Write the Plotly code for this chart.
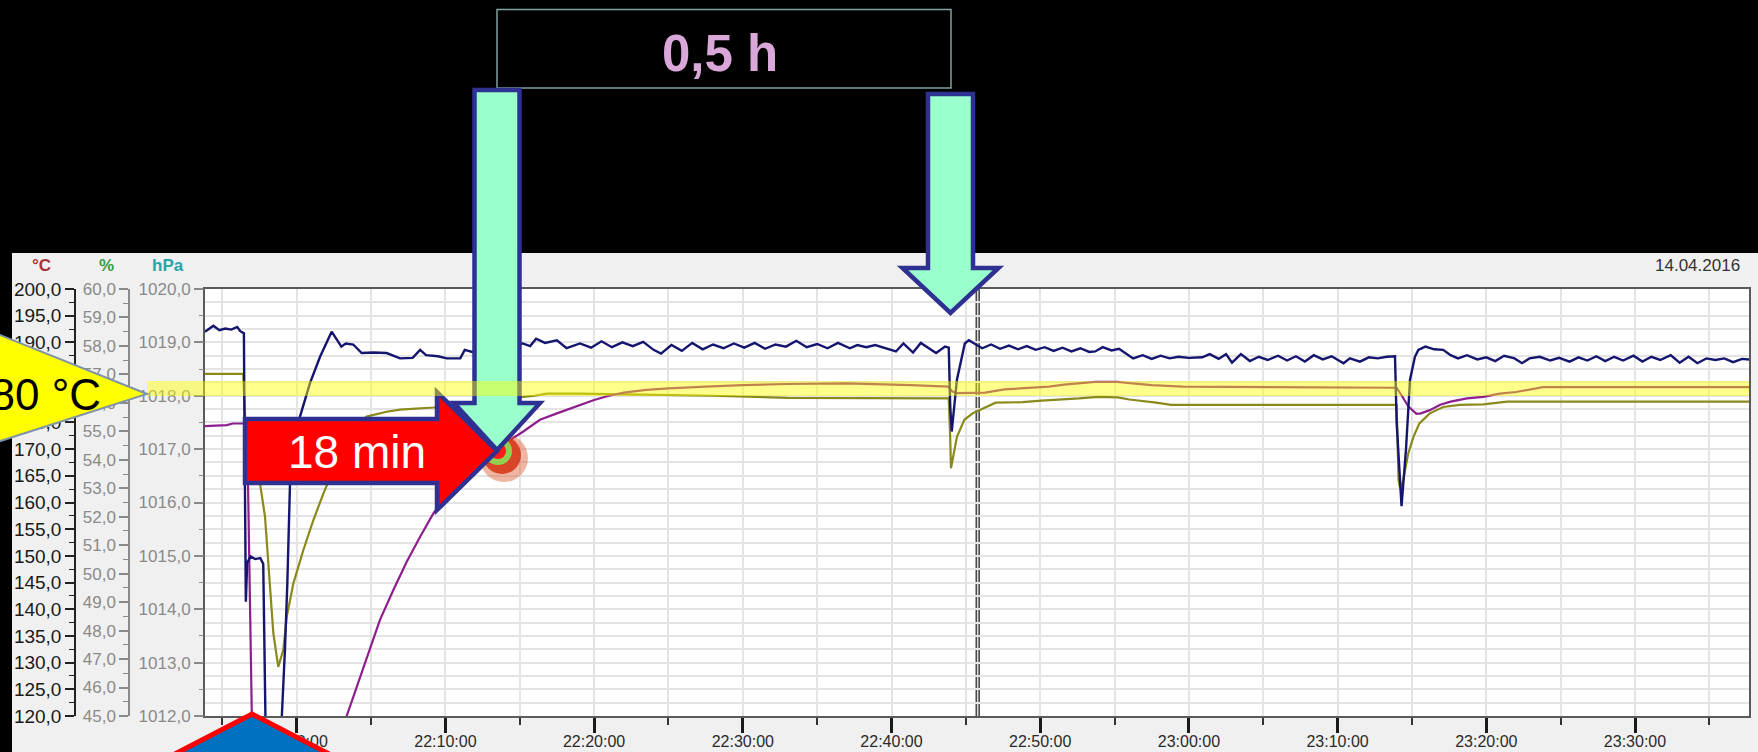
import pandas as pd
import plotly.graph_objects as go

W, H = 1758, 752

# ---------------- data (minutes after 22:00:00, 14.04.2016) ----------------
navy_min = [-6.17, -5.6, -5.2, -4.8, -4.4, -4.0, -3.8, -3.55, -3.5, -3.42,
            -3.33, -3.1, -2.8, -2.45, -2.25, -2.1, -2.0, -1.1, -1.0, -0.79,
            -0.63, -0.45, -0.11, 0.22, 0.9, 1.57, 2.35, 2.7, 3.0, 3.3,
            3.8, 4.37, 5.15, 6.05, 6.95, 7.8, 8.3, 8.7, 9.5, 10.1,
            11.0, 11.3, 11.8, 12.5, 13.5, 14.5, 15.2, 15.7, 16.1, 16.7,
            17.5, 18.15, 19.05, 19.8, 20.5, 21.2, 21.9, 22.6, 23.3, 24.0,
            24.5, 25.2, 25.9, 26.6, 27.3, 28.0, 28.7, 29.4, 30.1, 30.8,
            31.5, 32.2, 32.9, 33.6, 34.3, 35.0, 35.7, 36.4, 37.2, 37.7,
            38.3, 38.9, 39.5, 40.3, 40.8, 41.45, 41.97, 42.5, 43.0, 43.6,
            43.85, 43.95, 44.05, 44.4, 44.93, 45.2, 45.7, 46.1, 46.7, 47.3,
            47.9, 48.5, 49.1, 49.7, 50.3, 50.9, 51.5, 52.1, 52.7, 53.3,
            53.7, 54.2, 54.8, 55.3, 56.25, 56.9, 57.5, 58.1, 58.7, 59.3,
            60.0, 60.9, 61.4, 62.0, 62.5, 62.9, 63.5, 64.1, 64.7, 65.3,
            66.0, 66.6, 67.2, 67.8, 68.4, 69.0, 69.6, 70.4, 70.83, 71.5,
            72.1, 72.7, 73.3, 73.86, 73.97, 74.3, 74.6, 74.87, 75.2, 75.43,
            75.9, 76.5, 77.1, 77.6, 78.1, 78.7, 79.4, 80.0, 80.6, 81.2,
            81.9, 82.4, 82.9, 83.6, 84.3, 84.9, 85.6, 86.2, 86.8, 87.4,
            88.0, 88.6, 89.2, 89.9, 90.5, 91.1, 91.7, 92.4, 93.0, 93.6,
            94.2, 94.8, 95.4, 96.0, 96.6, 97.2, 97.67]
navy_degC = [192.0, 193.1, 192.3, 192.6, 192.4, 192.9, 192.1, 191.7, 170.0, 141.4,
             148.7, 149.9, 149.4, 149.6, 148.5, 120.0, 100.0, 100.0, 120.0, 132.4,
             144.9, 163.6, 172.3, 176.1, 182.4, 187.3, 192.0, 190.5, 189.2, 189.8,
             189.6, 188.0, 188.1, 188.0, 187.0, 187.1, 188.6, 187.6, 187.4, 187.0,
             187.0, 188.6, 188.2, 188.8, 189.0, 189.5, 189.8, 189.3, 190.7, 189.9,
             190.4, 188.9, 189.8, 189.0, 190.2, 189.1, 190.0, 189.3, 190.1, 188.6,
             187.9, 189.5, 188.4, 189.9, 188.7, 189.6, 188.9, 189.8, 189.0, 189.9,
             188.8, 189.6, 189.2, 190.3, 189.1, 189.7, 188.9, 189.9, 188.9, 189.5,
             189.1, 189.5, 189.0, 188.3, 189.8, 188.1, 189.9, 189.0, 188.0, 189.2,
             189.0, 178.0, 173.3, 183.0, 189.8, 190.4, 189.6, 188.9, 189.6, 188.8,
             189.4, 188.7, 189.3, 188.6, 189.1, 188.4, 189.0, 188.3, 188.9, 188.2,
             188.3, 189.1, 188.5, 188.8, 187.0, 187.6, 186.9, 187.5, 187.0, 187.3,
             187.1, 187.2, 187.8, 186.9, 187.8, 186.2, 187.8, 186.5, 187.3, 186.7,
             187.5, 186.6, 187.4, 186.4, 187.6, 186.8, 187.4, 186.1, 187.0, 186.4,
             187.2, 187.0, 187.3, 187.4, 175.0, 159.3, 170.0, 183.0, 187.3, 188.6,
             189.2, 188.7, 188.6, 187.6, 187.0, 187.6, 186.8, 187.2, 186.5, 187.5,
             187.0, 186.1, 187.0, 187.3, 186.6, 187.1, 186.4, 187.2, 186.6, 187.4,
             186.5, 187.3, 186.6, 187.5, 186.4, 187.3, 186.7, 187.6, 186.2, 187.3,
             186.1, 187.0, 186.7, 187.0, 186.3, 186.9, 186.8]

purple_min = [-6.17, -4.7, -4.3, -3.5, -3.3, -3.15, -3.05, -2.9, 0.5, 2.0,
              3.36, 3.8, 4.7, 5.6, 6.5, 7.4, 8.3, 9.2, 10.2, 11.3,
              12.4, 13.5, 14.4, 15.24, 16.36, 17.5, 19.05, 20.0, 21.0, 22.0,
              23.5, 25.0, 27.5, 30.0, 33.0, 37.0, 41.3, 43.8, 44.1, 44.4,
              46.3, 47.6, 50.6, 51.6, 53.7, 55.2, 56.2, 57.5, 59.6, 73.97,
              74.3, 74.75, 75.3, 75.6, 76.2, 76.9, 77.6, 78.7, 79.8, 80.9,
              82.0, 83.1, 83.8, 97.67]
purple_degC = [174.3, 174.5, 174.8, 174.8, 168.0, 140.0, 119.0, 100.0, 97.0, 109.0,
               119.9, 123.6, 130.5, 138.0, 143.6, 148.9, 153.6, 158.0, 161.8, 165.2,
               167.8, 170.0, 171.8, 173.3, 175.5, 176.7, 178.3, 179.2, 180.0, 180.6,
               181.1, 181.4, 181.7, 182.0, 182.2, 182.3, 182.0, 181.7, 180.8, 180.5,
               180.6, 181.2, 181.7, 182.1, 182.6, 182.6, 182.3, 182.0, 181.7, 181.5,
               180.1, 178.0, 176.6, 176.7, 177.3, 178.3, 178.9, 179.5, 179.8, 180.4,
               180.7, 181.2, 181.6, 181.6]

olive_min = [-6.17, -3.6, -3.5, -3.4, -3.0, -2.5, -2.13, -1.9, -1.57, -1.24,
             -0.9, -0.67, -0.22, 0.45, 1.12, 1.8, 2.6, 3.5, 4.2, 4.7,
             6.05, 6.95, 7.84, 9.2, 11.0, 13.0, 15.24, 16.0, 16.8, 19.05,
             28.0, 33.0, 43.85, 43.95, 44.0, 44.4, 44.9, 45.45, 46.2, 47.0,
             48.8, 50.1, 52.6, 53.9, 55.2, 56.0, 57.8, 58.8, 73.97, 74.1,
             74.2, 74.4, 74.75, 75.1, 75.5, 76.2, 77.1, 78.2, 79.8, 81.4,
             97.67]
olive_degC = [184.1, 184.1, 178.0, 172.0, 167.5, 164.2, 157.3, 148.0, 135.5, 129.2,
              132.4, 138.6, 144.9, 151.1, 156.7, 161.7, 167.0, 172.0, 174.8, 176.1,
              177.0, 177.4, 177.6, 177.8, 178.4, 179.1, 179.8, 180.0, 180.4, 180.4,
              180.0, 179.6, 179.5, 172.0, 166.4, 172.3, 175.5, 176.7, 177.6, 178.7,
              178.8, 179.1, 179.5, 179.8, 179.7, 179.3, 178.7, 178.3, 178.3, 164.2,
              162.7, 164.0, 169.2, 172.3, 174.8, 176.7, 177.9, 178.3, 178.4, 178.9,
              178.9]

cursor_time = "2016-04-14 22:45:48"
x_range = ["2016-04-14 21:53:50", "2016-04-14 23:37:40"]
degC_range = [120, 200]
pct_range = [45, 60]
hpa_range = [1012, 1020]
base = pd.Timestamp("2016-04-14 22:00:00")


def to_time(mins):
    return [base + pd.Timedelta(minutes=m) for m in mins]


# ---------------- helpers for overlay shapes (pixel -> paper) ----------------
def fx(x):
    return x / W


def fy(y):
    return 1 - y / H


def path(pts):
    return "M " + " L ".join(f"{fx(x):.5f},{fy(y):.5f}" for x, y in pts) + " Z"


def circle(cx, cy, r, fill):
    return dict(type="circle", xref="paper", yref="paper",
                x0=fx(cx - r), x1=fx(cx + r), y0=fy(cy + r), y1=fy(cy - r),
                fillcolor=fill, line=dict(color=fill, width=0), layer="above")


fig = go.Figure()
fig.add_trace(go.Scatter(x=to_time(olive_min), y=olive_degC, mode="lines",
                         line=dict(color="#8a8a1c", width=2.2), hoverinfo="skip"))
fig.add_trace(go.Scatter(x=to_time(purple_min), y=purple_degC, mode="lines",
                         line=dict(color="#8e1e8e", width=2.2), hoverinfo="skip"))
fig.add_trace(go.Scatter(x=to_time(navy_min), y=navy_degC, mode="lines",
                         line=dict(color="#15156f", width=2.4), hoverinfo="skip"))
# empty carriers so that the % and hPa scales are drawn
for ax in ("y2", "y3", "y4"):
    fig.add_trace(go.Scatter(x=x_range, y=[None, None], yaxis=ax, mode="lines",
                             hoverinfo="skip", showlegend=False))

xd = [fx(205), fx(1749)]
yd = [fy(716), fy(289)]
grid_c = "#e4e4e4"
gray_lab = "#8a8a8a"

fig.update_layout(
    width=W, height=H, margin=dict(l=0, r=0, t=0, b=0, autoexpand=False),
    paper_bgcolor="black", plot_bgcolor="white", showlegend=False,
    separators=",.",
    font=dict(family="Liberation Sans, Arial, sans-serif"),
    xaxis=dict(domain=xd, anchor="y", type="date", range=x_range,
               tickformat="%H:%M:%S", dtick=600000, tick0="2016-04-14 22:00:00",
               ticks="outside", ticklen=15, tickwidth=2.5, tickcolor="#1a1a1a",
               ticklabelstandoff=-5,
               tickfont=dict(size=16, color="#2a2a2a"),
               showgrid=True, gridcolor=grid_c, gridwidth=2,
               showline=True, linecolor="#5a5a5a", linewidth=2, mirror=True,
               zeroline=False, fixedrange=True, automargin=False,
               minor=dict(dtick=300000, tick0="2016-04-14 22:00:00", ticks="outside",
                          ticklen=7, tickwidth=1.5, tickcolor="#333333",
                          showgrid=True, gridcolor=grid_c, gridwidth=2)),
    yaxis=dict(domain=yd, anchor="free", position=fx(75), side="left",
               range=degC_range, dtick=5, tickformat=".1f",
               ticks="outside", ticklen=9, tickwidth=1.5, tickcolor="#222222",
               tickfont=dict(size=19, color="#1a1a1a"),
               showline=True, linecolor="#222222", linewidth=1.5,
               showgrid=False, zeroline=False, fixedrange=True, automargin=False,
               minor=dict(dtick=2.5, ticks="outside", ticklen=5, tickwidth=1.2,
                          tickcolor="#222222", showgrid=False)),
    yaxis2=dict(overlaying="y", anchor="free", position=fx(129), side="left",
                range=pct_range, dtick=1, tickformat=".1f",
                ticks="outside", ticklen=9, tickwidth=1.5, tickcolor="#8a8a8a",
                tickfont=dict(size=17, color=gray_lab),
                showline=True, linecolor="#8a8a8a", linewidth=1.5,
                showgrid=False, zeroline=False, fixedrange=True, automargin=False,
                minor=dict(dtick=0.5, ticks="outside", ticklen=5, tickwidth=1.2,
                           tickcolor="#8a8a8a", showgrid=False)),
    yaxis3=dict(overlaying="y", anchor="x", side="left",
                range=hpa_range, dtick=1, tickformat=".1f",
                ticks="outside", ticklen=9, tickwidth=1.5, tickcolor="#8a8a8a",
                tickfont=dict(size=17, color=gray_lab),
                showline=True, linecolor="#5a5a5a", linewidth=2, mirror=True,
                showgrid=True, gridcolor=grid_c, gridwidth=1.5,
                zeroline=False, fixedrange=True, automargin=False,
                minor=dict(dtick=0.25, ticks="", showgrid=True,
                           gridcolor=grid_c, gridwidth=1.5)),
    yaxis4=dict(overlaying="y", anchor="x", side="left",
                range=hpa_range, dtick=0.5, showticklabels=False,
                ticks="outside", ticklen=5, tickwidth=1.2, tickcolor="#8a8a8a",
                showline=False, showgrid=False, zeroline=False, fixedrange=True,
                automargin=False),
)

navy_b = "#2e3192"
panel = "#f0f0f0"
shapes = [
    # light grey panel of the logger software (around the white plot area)
    dict(type="rect", xref="paper", yref="paper", x0=fx(12), x1=1.01, y0=fy(289), y1=fy(253),
         fillcolor=panel, line=dict(width=0), layer="below"),
    dict(type="rect", xref="paper", yref="paper", x0=fx(12), x1=fx(205), y0=-0.01, y1=fy(288),
         fillcolor=panel, line=dict(width=0), layer="below"),
    dict(type="rect", xref="paper", yref="paper", x0=fx(1749), x1=1.01, y0=-0.01, y1=fy(288),
         fillcolor=panel, line=dict(width=0), layer="below"),
    dict(type="rect", xref="paper", yref="paper", x0=fx(204), x1=fx(1750), y0=-0.01, y1=fy(716),
         fillcolor=panel, line=dict(width=0), layer="below"),
    # cursor double line
    dict(type="line", xref="x", yref="paper", x0=cursor_time, x1=cursor_time,
         y0=yd[0], y1=yd[1], line=dict(color="#4a4a4a", width=4.5), layer="between"),
    dict(type="line", xref="x", yref="paper", x0=cursor_time, x1=cursor_time,
         y0=yd[0], y1=yd[1], line=dict(color="#e8e8e8", width=1.3), layer="between"),
    # marker circle with shadow
    circle(504, 458, 24, "rgba(225,90,50,0.45)"),
    circle(502, 455, 19, "rgba(215,55,25,0.9)"),
    circle(498, 451, 14, "#92d050"),
    circle(498, 451, 8, "#ff1a1a"),
    # red arrow
    dict(type="path", xref="paper", yref="paper", layer="above",
         path=path([(245, 419), (437, 419), (437, 392), (497, 451), (437, 510), (437, 483), (245, 483)]),
         fillcolor="#ff0000", line=dict(color=navy_b, width=4.5)),
    # top box
    dict(type="rect", xref="paper", yref="paper", layer="above",
         x0=fx(497), x1=fx(951), y0=fy(88), y1=fy(9.5),
         fillcolor="black", line=dict(color="#7fa0a0", width=1.5)),
    # green arrows
    dict(type="path", xref="paper", yref="paper", layer="above",
         path=path([(474.5, 90), (519.5, 90), (519.5, 403), (540, 403), (497, 450),
                    (454, 403), (474.5, 403)]),
         fillcolor="#99ffcc", line=dict(color=navy_b, width=4.5)),
    dict(type="path", xref="paper", yref="paper", layer="above",
         path=path([(928, 94), (973, 94), (973, 268), (998.5, 268), (950.5, 313),
                    (902.5, 268), (928, 268)]),
         fillcolor="#99ffcc", line=dict(color=navy_b, width=4.5)),
    # translucent 180 °C band
    dict(type="rect", xref="paper", yref="paper", layer="above",
         x0=fx(147), x1=fx(1749), y0=fy(396), y1=fy(381),
         fillcolor="rgba(255,255,0,0.45)", line=dict(width=0)),
    # yellow callout
    dict(type="path", xref="paper", yref="paper", layer="above",
         path=path([(-40, 319), (147, 394), (-40, 454)]),
         fillcolor="#ffff00", line=dict(color="#8094a8", width=2)),
    # blue pentagon at bottom
    dict(type="path", xref="paper", yref="paper", layer="above",
         path=path([(252, 714), (360, 770), (144, 770)]),
         fillcolor="#0070c0", line=dict(color="#ff0000", width=5)),
]
fig.update_layout(shapes=shapes)

ann = [
    dict(text="0,5 h", x=fx(720), y=fy(53), font=dict(size=51, color="#d9a8d9", weight="bold")),
    dict(text="18 min", x=fx(357), y=fy(452), font=dict(size=46, color="white")),
    dict(text="180 °C", x=fx(103), y=fy(394), xanchor="right", font=dict(size=44, color="black")),
    dict(text="°C", x=fx(41), y=fy(265), font=dict(size=17, color="#a83232", weight="bold")),
    dict(text="%", x=fx(106), y=fy(265), font=dict(size=17, color="#3c9a3c", weight="bold")),
    dict(text="hPa", x=fx(168), y=fy(265), font=dict(size=17, color="#2aa3a8", weight="bold")),
    dict(text="14.04.2016", x=fx(1742), y=fy(265), xanchor="right", font=dict(size=17, color="#333333")),
]
for a in ann:
    a.setdefault("xanchor", "center")
    a.update(xref="paper", yref="paper", yanchor="middle", showarrow=False)
fig.update_layout(annotations=ann)

fig.write_html("out.html")
